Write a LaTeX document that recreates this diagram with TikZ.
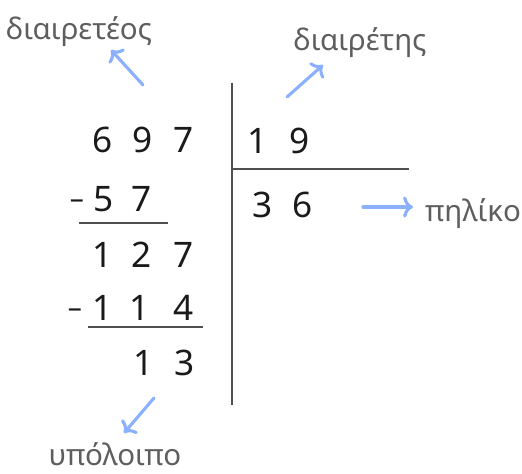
\documentclass[tikz,border=0pt]{standalone}
\usepackage{fontspec}
\setmainfont{Noto Sans}
\usetikzlibrary{arrows.meta}
\definecolor{pointblue}{HTML}{8AB0FF}
\definecolor{labelgray}{HTML}{5E5E5E}
\definecolor{rulegray}{HTML}{505050}
\definecolor{digitblack}{HTML}{1A1A1A}

\begin{document}
\begin{tikzpicture}[
  digit/.style={text=digitblack,font=\fontsize{25}{30}\selectfont,inner sep=0pt,
    text height=17.8pt,text depth=0pt},
  minus/.style={digit,font=\fontsize{20}{24}\selectfont},
  lbl/.style={text=labelgray,font=\fontsize{21}{25}\selectfont,inner sep=0pt},
  rulel/.style={draw=rulegray,line width=1.3pt},
  pointer/.style={draw=pointblue,line width=2.2pt,line cap=round,
    -{Computer Modern Rightarrow[length=7pt,width=15pt,line cap=round]}}]
\useasboundingbox (0,0) rectangle (13.05,11.825);
% dividend and partial results
\node[digit] (dvdA) at (2.575,8.325) {6};
\node[digit] (dvdB) at (3.575,8.325) {9};
\node[digit] (dvdC) at (4.6,8.325) {7};
\node[minus] (subAm) at (1.925,6.925) {–};
\node[digit] (subAa) at (2.6,6.85) {5};
\node[digit] (subAb) at (3.55,6.85) {7};
\draw[rulel] (1.975,6.25) -- (4.2,6.25);
\node[digit] (remAa) at (2.575,5.45) {1};
\node[digit] (remAb) at (3.55,5.45) {2};
\node[digit] (remAc) at (4.58,5.45) {7};
\node[minus] (subBm) at (1.875,4.2) {–};
\node[digit] (subBa) at (2.575,4.125) {1};
\node[digit] (subBb) at (3.5,4.125) {1};
\node[digit] (subBc) at (4.58,4.125) {4};
\draw[rulel] (2.2,3.65) -- (5.075,3.65);
\node[digit] (remBa) at (3.6,2.75) {1};
\node[digit] (remBb) at (4.625,2.75) {3};
% divisor and quotient
\draw[rulel] (5.8,9.75) -- (5.8,1.7);
\draw[rulel] (5.8,7.6) -- (10.225,7.6);
\node[digit] (dvsA) at (6.45,8.3) {1};
\node[digit] (dvsB) at (7.5,8.3) {9};
\node[digit] (quoA) at (6.575,6.7) {3};
\node[digit] (quoB) at (7.575,6.7) {6};
% labels
\node[lbl,anchor=base] (dividend) at (1.975,10.825) {διαιρετέος};
\node[lbl,anchor=base] (divisor) at (9.0,10.575) {διαιρέτης};
\node[lbl,anchor=base west] (quotient) at (10.62,6.3) {πηλίκο};
\node[lbl,anchor=base] (remainder) at (2.875,0.2) {υπόλοιπο};
% pointers
\coordinate (dvdS) at (3.575,9.7);
\coordinate (dvdE) at (2.775,10.575);
\coordinate (dvsS) at (7.175,9.4);
\coordinate (dvsE) at (8.075,10.2);
\coordinate (quoS) at (9.075,6.65);
\coordinate (quoE) at (10.325,6.65);
\coordinate (remS) at (3.85,1.875);
\coordinate (remE) at (3.1,1.0);
\draw[pointer] (dvdS) -- (dvdE);
\draw[pointer] (dvsS) -- (dvsE);
\draw[pointer] (quoS) -- (quoE);
\draw[pointer] (remS) -- (remE);
\end{tikzpicture}
\end{document}
